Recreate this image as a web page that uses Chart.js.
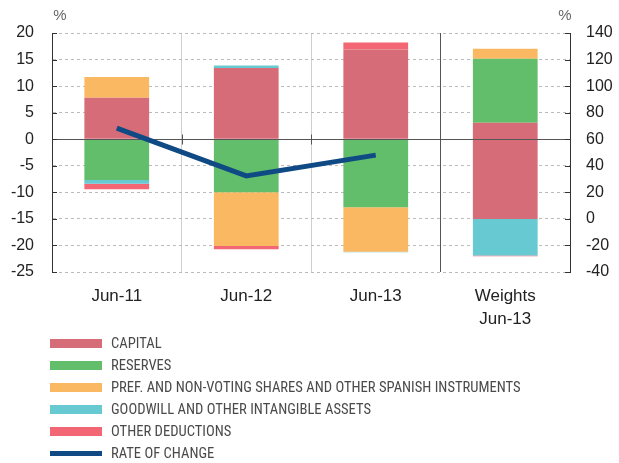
<!DOCTYPE html>
<html>
<head>
<meta charset="utf-8">
<script src="https://cdn.jsdelivr.net/npm/chart.js@4/dist/chart.umd.min.js"></script>
<style>
  html, body { margin: 0; padding: 0; background: #fff; }
  #wrap { position: relative; width: 619px; height: 463px; }
  #legend { position: absolute; left: 50px; top: 332px; font-family: Roboto, sans-serif; font-stretch: condensed; font-weight: 400; font-size: 14.6px; color: #4a4a4a; }
  .row { height: 22px; display: flex; align-items: center; }
  .box { width: 52px; height: 9px; margin-right: 9px; }
</style>
</head>
<body>
<div id="wrap">
  <canvas id="chart" width="619" height="463"></canvas>
  <div id="legend"></div>
</div>
<script>
// Bank own funds: contributions to rate of change (left axis) and weights (right axis)
var categories = ['Jun-11', 'Jun-12', 'Jun-13', ['Weights', 'Jun-13']];

var capital  = [7.8, 13.4, 16.9, null];
var reserves = [-7.7, -10.0, -12.8, null];
var pref     = [3.9, -10.1, -8.4, null];
var goodwill = [-0.7, 0.5, -0.1, null];
var other    = [-1.0, -0.6, 1.3, null];
var rate     = [2.1, -6.9, -3.0, null];

// weights at Jun-13, right axis: capital, reserves, pref, goodwill, other
var weights  = [72.5, 48.2, 7.5, -27.6, -0.5];

var seriesNames  = ['CAPITAL', 'RESERVES', 'PREF. AND NON-VOTING SHARES AND OTHER SPANISH INSTRUMENTS',
                    'GOODWILL AND OTHER INTANGIBLE ASSETS', 'OTHER DEDUCTIONS'];
var seriesColors = ['#d56c78', '#62be6a', '#fbb862', '#67c9d2', '#f36673'];
var lineName  = 'RATE OF CHANGE';
var lineColor = '#104a85';

var seriesData = [capital, reserves, pref, goodwill, other];

// line first so it is drawn on top of the bars
var datasets = [{
  type: 'line', label: lineName, data: rate, yAxisID: 'y',
  borderColor: lineColor, borderWidth: 5, pointRadius: 0, tension: 0, borderCapStyle: 'butt'
}];
seriesNames.forEach(function(name, i) {
  datasets.push({ label: name, data: seriesData[i], yAxisID: 'y', stack: 's',
                  backgroundColor: seriesColors[i] });
});
seriesNames.forEach(function(name, i) {
  datasets.push({ label: name + ' (weight)', data: [null, null, null, weights[i]], yAxisID: 'y2', stack: 's',
                  backgroundColor: seriesColors[i] });
});

// HTML legend
var legend = document.getElementById('legend');
seriesNames.concat([lineName]).forEach(function(name, i) {
  var row = document.createElement('div');
  row.className = 'row';
  var box = document.createElement('div');
  box.className = 'box';
  box.style.background = i < seriesColors.length ? seriesColors[i] : lineColor;
  if (i === seriesColors.length) { box.style.height = '5px'; }
  var txt = document.createElement('span');
  txt.textContent = name;
  row.appendChild(box); row.appendChild(txt);
  legend.appendChild(row);
});

var extras = {
  id: 'extras',
  afterDatasetDraw: function(chart, args) {
    if (args.index !== 1) return;
    var ctx = chart.ctx, a = chart.chartArea, x = chart.scales.x;
    var y0 = Math.round(chart.scales.y.getPixelForValue(0)) + 0.5;
    ctx.save();
    ctx.strokeStyle = '#555'; ctx.lineWidth = 1;
    ctx.beginPath(); ctx.moveTo(a.left, y0); ctx.lineTo(a.right, y0); ctx.stroke();
    [1, 2].forEach(function(i) {
      var bx = Math.round((x.getPixelForValue(i - 1) + x.getPixelForValue(i)) / 2) + 0.5;
      ctx.beginPath(); ctx.moveTo(bx, y0 - 5); ctx.lineTo(bx, y0 + 5); ctx.stroke();
    });
    ctx.restore();
  },
  afterDraw: function(chart) {
    var ctx = chart.ctx, a = chart.chartArea;
    ctx.save();
    ctx.strokeStyle = '#333'; ctx.lineWidth = 1;
    chart.scales.y.ticks.forEach(function(t) {
      var py = Math.round(chart.scales.y.getPixelForValue(t.value)) + 0.5;
      ctx.beginPath(); ctx.moveTo(a.left, py); ctx.lineTo(a.left + 5, py); ctx.stroke();
    });
    chart.scales.y2.ticks.forEach(function(t) {
      var py = Math.round(chart.scales.y2.getPixelForValue(t.value)) + 0.5;
      ctx.beginPath(); ctx.moveTo(a.right - 5, py); ctx.lineTo(a.right, py); ctx.stroke();
    });
    ctx.fillStyle = '#666';
    ctx.font = '15px "Liberation Sans", Arial, sans-serif';
    ctx.textAlign = 'center'; ctx.textBaseline = 'middle';
    ctx.fillText('%', 60, 16);
    ctx.fillText('%', 565, 16);
    ctx.restore();
  }
};

new Chart(document.getElementById('chart').getContext('2d'), {
  type: 'bar',
  data: { labels: categories, datasets: datasets },
  plugins: [extras],
  options: {
    responsive: false,
    animation: false,
    layout: { padding: { top: 33, bottom: 131, left: 0, right: 0 } },
    datasets: { bar: { categoryPercentage: 1, barPercentage: 0.5 } },
    plugins: { legend: { display: false }, tooltip: { enabled: false } },
    scales: {
      x: {
        stacked: true,
        afterFit: function(s) { s.height = 60; },
        border: { display: false },
        grid: {
          offset: true, drawTicks: false,
          color: function(c) { return c.index === 3 ? '#555' : (c.index === 1 || c.index === 2) ? '#cfcfcf' : 'rgba(0,0,0,0)'; }
        },
        ticks: { padding: 13, color: '#222', font: { family: '"Liberation Sans", Arial, sans-serif', size: 17, lineHeight: 1.35 } }
      },
      y: {
        position: 'left', stacked: true, min: -25, max: 20,
        afterFit: function(s) { s.width = 52; },
        border: { display: true, color: '#333', dash: [3, 3] },
        grid: { color: '#bbb', drawTicks: false },
        ticks: { stepSize: 5, padding: 18, color: '#222', font: { family: '"Liberation Sans", Arial, sans-serif', size: 16 } }
      },
      y2: {
        position: 'right', stacked: true, min: -40, max: 140,
        afterFit: function(s) { s.width = 49; },
        border: { display: true, color: '#333' },
        grid: { display: false, drawTicks: false },
        ticks: { stepSize: 20, padding: 16, color: '#222', font: { family: '"Liberation Sans", Arial, sans-serif', size: 16 } }
      }
    }
  }
});
</script>
</body>
</html>
